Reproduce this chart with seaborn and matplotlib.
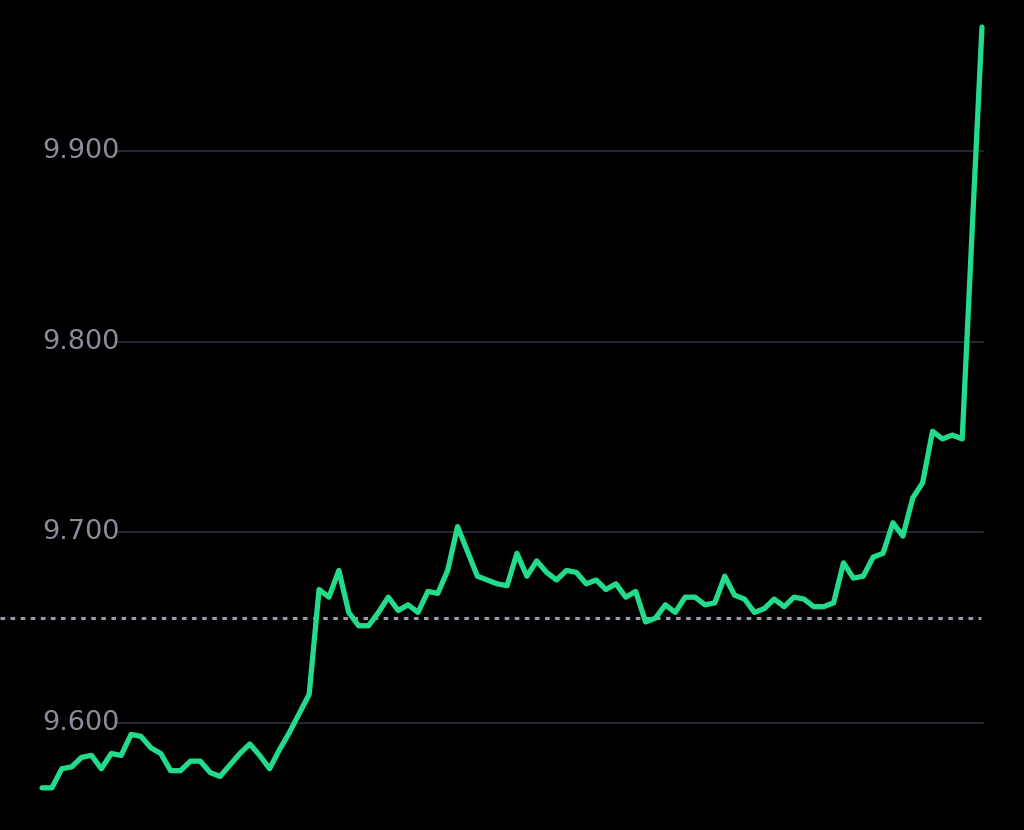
import numpy as np
import pandas as pd
import seaborn as sns
import matplotlib.pyplot as plt

# price values, left to right
prices = [
    9.566, 9.566, 9.576, 9.577, 9.582, 9.583, 9.576, 9.584, 9.583, 9.594,
    9.593, 9.587, 9.584, 9.575, 9.575, 9.580, 9.580, 9.574, 9.572, 9.578,
    9.584, 9.589, 9.583, 9.576, 9.586, 9.595, 9.605, 9.615, 9.670,
    9.666, 9.680, 9.658, 9.651, 9.651, 9.658, 9.666, 9.659, 9.662, 9.658,
    9.669, 9.668, 9.680, 9.703, 9.690, 9.677, 9.675, 9.673, 9.672, 9.689,
    9.677, 9.685, 9.679, 9.675, 9.680, 9.679, 9.673, 9.675, 9.670, 9.673,
    9.666, 9.669, 9.653, 9.655, 9.662, 9.658, 9.666, 9.666, 9.662, 9.663,
    9.677, 9.667, 9.665, 9.658, 9.660, 9.665, 9.661, 9.666, 9.665, 9.661,
    9.661, 9.663, 9.684, 9.676, 9.677, 9.687, 9.689, 9.705, 9.698, 9.718,
    9.726, 9.753, 9.749, 9.751, 9.749, 9.858, 9.965,
]
ref_level = 9.655
tick_values = [9.600, 9.700, 9.800, 9.900]
tick_labels = ['9.600', '9.700', '9.800', '9.900']

df = pd.DataFrame({'step': np.arange(len(prices)), 'price': prices})

sns.set_style('dark', {'axes.facecolor': 'black', 'figure.facecolor': 'black'})
plt.rcParams['font.family'] = ['DejaVu Sans']

fig = plt.figure(figsize=(10.24, 8.3), dpi=100)
ax = fig.add_axes([0, 0, 1, 1])
ax.set_facecolor('black')

n = len(prices)
step_px = 940 / (n - 1)
ax.set_xlim(-42 / step_px, (1024 - 42) / step_px)
ax.set_ylim(9.6 - 107 / 1906.7, 9.6 + 723 / 1906.7)

for v, lab in zip(tick_values, tick_labels):
    ax.axhline(v, xmin=0.114, xmax=0.96, color='#2b2b36', lw=1.3, zorder=1)
    ax.text(0.041, v, lab, transform=ax.get_yaxis_transform(),
            ha='left', va='center', color='#8b8b99', fontsize=19.5, zorder=2)

ax.axhline(ref_level, xmin=0.0, xmax=0.958, color='#9a9aab', lw=2.2,
           linestyle=(0, (1.5, 1.8)), zorder=2)

sns.lineplot(data=df, x='step', y='price', ax=ax, color='#22dc8c', lw=3.8,
             zorder=3, solid_joinstyle='round', solid_capstyle='round')

ax.set_xlabel('')
ax.set_ylabel('')
ax.set_xticks([])
ax.set_yticks([])
for s in ax.spines.values():
    s.set_visible(False)

fig.savefig('out.png', dpi=100, facecolor='black')
